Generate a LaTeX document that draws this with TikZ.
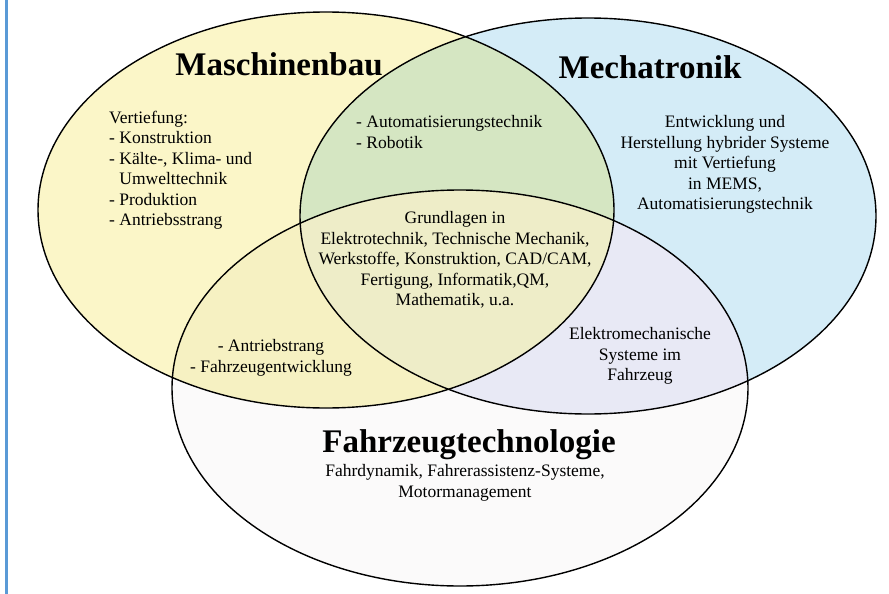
\documentclass[tikz,border=0pt]{standalone}
\usepackage{fontspec}
\setmainfont{Liberation Serif}
\definecolor{cYel}{HTML}{FBF6C8}
\definecolor{cBlu}{HTML}{D4ECF7}
\definecolor{cGrn}{HTML}{D5E6C2}
\definecolor{cMid}{HTML}{EEEDC8}
\definecolor{cYF}{HTML}{F6F1C2}
\definecolor{cBF}{HTML}{E8E9F5}
\definecolor{cFz}{HTML}{FBFAFA}
\definecolor{cFrame}{HTML}{5A9AD6}
\newcommand{\ellMB}{(326,210) ellipse [x radius=288pt, y radius=198pt]}
\newcommand{\ellMT}{(588,216) ellipse [x radius=288pt, y radius=198pt]}
\newcommand{\ellFZ}{(460,388) ellipse [x radius=288pt, y radius=198pt]}
\begin{document}
\begin{tikzpicture}[x=1pt,y=-1pt,
  title/.style={font=\fontsize{33}{38}\selectfont\bfseries, inner sep=0pt, anchor=base},
  body/.style={font=\fontsize{17.5}{20.5}\selectfont, inner sep=0pt},
  outline/.style={draw=black, line width=1.4pt}]
\useasboundingbox (0,0) rectangle (889,594);
\fill[white] (0,0) rectangle (889,594);
% fills
\fill[cFz] \ellFZ;
\fill[cYel] \ellMB;
\fill[cBlu] \ellMT;
\begin{scope}\clip \ellMB; \fill[cGrn] \ellMT; \end{scope}
\begin{scope}\clip \ellMT; \fill[cBF] \ellFZ; \end{scope}
\begin{scope}\clip \ellMB; \fill[cYF] \ellFZ; \end{scope}
\begin{scope}\clip \ellMB; \clip \ellMT; \fill[cMid] \ellFZ; \end{scope}
% outlines
\draw[outline] \ellMB;
\draw[outline] \ellMT;
\draw[outline] \ellFZ;
% frame line
\coordinate (ftop) at (6.5,0);
\coordinate (fbot) at (6.5,594);
\draw[cFrame, line width=2.4pt] (ftop) -- (fbot);
% titles
\node[title] (tMB) at (279,75) {Maschinenbau};
\node[title] (tMT) at (650,78) {Mechatronik};
\node[title] (tFZ) at (469,452) {Fahrzeugtechnologie};
% texts
\node[body, anchor=north west, align=left] (xMB) at (109,110.5)
  {Vertiefung:\\- Konstruktion\\- Kälte-, Klima- und\\\hphantom{- }Umwelttechnik\\- Produktion\\- Antriebsstrang};
\node[body, anchor=north west, align=left] (xMBMT) at (356,115.5)
  {- Automatisierungstechnik\\- Robotik};
\node[body, anchor=north, align=center] (xMT) at (725,115.5)
  {Entwicklung und\\Herstellung hybrider Systeme\\mit Vertiefung\\in MEMS,\\Automatisierungstechnik};
\node[body, anchor=north, align=center] (xMid) at (455,211.5)
  {Grundlagen in\\Elektrotechnik, Technische Mechanik,\\Werkstoffe, Konstruktion, CAD/CAM,\\Fertigung, Informatik,QM,\\Mathematik, u.a.};
\node[body, anchor=north, align=center] (xMBFZ) at (271,339.5)
  {- Antriebstrang\\- Fahrzeugentwicklung};
\node[body, anchor=north, align=center] (xMTFZ) at (640,327.5)
  {Elektromechanische\\Systeme im\\Fahrzeug};
\node[body, anchor=north, align=center] (xFZ) at (465,464.5)
  {Fahrdynamik, Fahrerassistenz-Systeme,\\Motormanagement};
\end{tikzpicture}
\end{document}
